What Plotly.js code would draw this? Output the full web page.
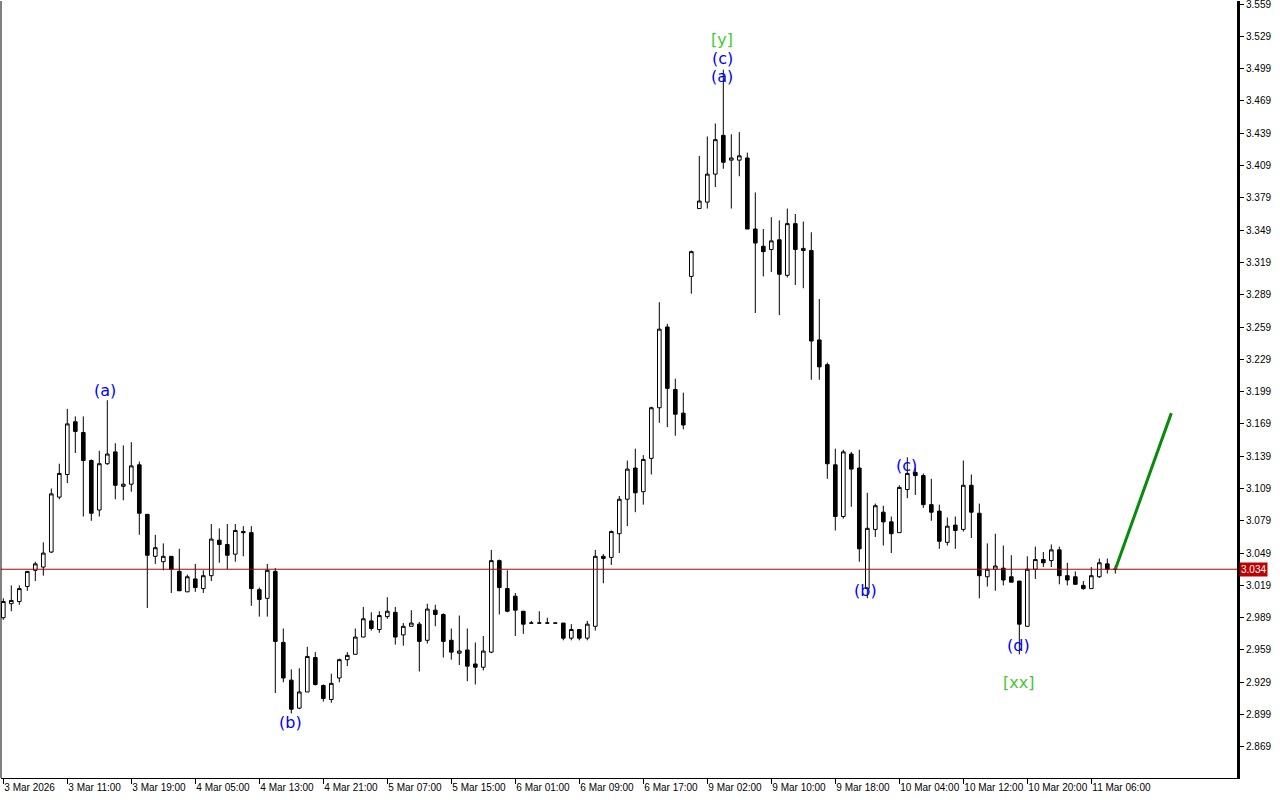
<!DOCTYPE html>
<html>
<head>
<meta charset="utf-8">
<script src="https://cdn.plot.ly/plotly-3.0.1.min.js"></script>
<style>
html,body{margin:0;padding:0;background:#fff;}
#chart{width:1280px;height:800px;}
</style>
</head>
<body>
<div id="chart"></div>
<script>
// Hourly bars (index = bar number)
const openP = [2.989,3.002,3.004,3.018,3.033,3.036,3.050,3.101,3.122,3.171,
3.161,3.135,3.089,3.132,3.143,3.111,3.113,3.131,3.085,3.046,
3.041,3.046,3.032,3.013,3.025,3.016,3.028,3.061,3.057,3.048,
3.069,3.068,3.015,3.007,3.032,2.966,2.931,2.905,2.920,2.952,
2.926,2.913,2.933,2.950,2.955,2.971,2.986,2.978,2.990,2.994,
2.973,2.981,2.983,2.968,2.996,2.992,2.968,2.956,2.959,2.946,
2.943,2.957,3.042,3.016,3.009,2.995,2.984,2.984,2.984,2.984,
2.984,2.970,2.978,2.970,2.981,3.046,3.045,3.067,3.099,3.128,
3.106,3.137,3.184,3.259,3.201,3.179,3.306,3.369,3.375,3.401,
3.437,3.414,3.414,3.416,3.350,3.334,3.331,3.340,3.307,3.355,
3.330,3.330,3.247,3.224,3.131,3.083,3.141,3.128,3.016,3.071,
3.087,3.078,3.068,3.108,3.124,3.121,3.094,3.088,3.059,3.075,
3.071,3.112,3.086,3.027,3.034,3.035,3.027,3.023,2.981,3.034,
3.043,3.042,3.052,3.028,3.027,3.019,3.016,3.027,3.039,3.034];
const highP = [3.007,3.019,3.019,3.032,3.041,3.059,3.109,3.132,3.183,3.176,
3.176,3.136,3.144,3.191,3.151,3.149,3.152,3.134,3.085,3.066,
3.058,3.046,3.053,3.029,3.039,3.033,3.076,3.072,3.076,3.076,
3.074,3.074,3.017,3.039,3.035,2.979,2.941,2.942,2.962,2.957,
2.927,2.937,2.951,2.957,2.979,2.999,2.994,2.995,3.008,2.999,
2.984,2.996,2.985,3.002,3.001,2.993,2.979,2.991,2.979,2.966,
2.972,3.052,3.043,3.033,3.012,2.995,2.986,2.995,2.989,2.984,
2.984,2.983,2.978,2.986,3.052,3.048,3.070,3.102,3.135,3.146,
3.140,3.185,3.282,3.262,3.211,3.198,3.330,3.418,3.436,3.448,
3.498,3.438,3.440,3.421,3.384,3.350,3.361,3.358,3.369,3.364,
3.357,3.347,3.285,3.226,3.146,3.145,3.143,3.145,3.105,3.095,
3.093,3.083,3.112,3.138,3.128,3.123,3.118,3.094,3.082,3.083,
3.135,3.122,3.095,3.058,3.067,3.056,3.047,3.023,3.046,3.055,
3.050,3.057,3.055,3.040,3.032,3.023,3.036,3.044,3.044,3.038];
const lowP = [2.987,2.995,3.001,3.014,3.023,3.028,3.049,3.099,3.114,3.142,
3.083,3.079,3.083,3.131,3.099,3.098,3.106,3.066,2.998,3.039,
3.033,3.012,3.014,3.013,3.013,3.012,3.023,3.040,3.034,3.041,
3.046,3.000,2.990,2.990,2.919,2.929,2.900,2.904,2.920,2.926,
2.911,2.910,2.929,2.944,2.955,2.971,2.977,2.975,2.988,2.964,
2.963,2.981,2.939,2.965,2.981,2.952,2.950,2.945,2.930,2.927,
2.940,2.956,2.992,2.994,2.972,2.974,2.984,2.984,2.984,2.984,
2.968,2.968,2.968,2.968,2.977,3.021,3.038,3.049,3.074,3.087,
3.094,3.122,3.170,3.166,3.158,3.164,3.290,3.369,3.369,3.389,
3.406,3.369,3.399,3.350,3.272,3.306,3.310,3.270,3.305,3.298,
3.295,3.210,3.210,3.118,3.070,3.081,3.092,3.041,3.007,3.064,
3.056,3.049,3.068,3.100,3.103,3.091,3.079,3.053,3.056,3.053,
3.069,3.063,3.007,3.018,3.014,3.019,3.022,2.955,2.981,3.025,
3.036,3.036,3.020,3.019,3.020,3.015,3.016,3.026,3.030,3.030];
const closeP = [3.004,3.005,3.016,3.032,3.039,3.049,3.104,3.123,3.169,3.162,
3.135,3.086,3.132,3.141,3.112,3.113,3.130,3.086,3.047,3.054,
3.046,3.034,3.014,3.027,3.017,3.028,3.062,3.057,3.047,3.070,
3.068,3.016,3.006,3.033,2.967,2.933,2.904,2.920,2.953,2.927,
2.914,2.928,2.950,2.954,2.971,2.988,2.979,2.991,2.995,2.971,
2.981,2.984,2.967,2.997,2.992,2.967,2.957,2.958,2.944,2.943,
2.958,3.042,3.017,2.995,2.996,2.983,2.984,2.984,2.984,2.984,
2.970,2.978,2.970,2.983,3.046,3.044,3.069,3.099,3.127,3.105,
3.136,3.184,3.257,3.202,3.178,3.168,3.329,3.376,3.401,3.433,
3.412,3.416,3.418,3.350,3.337,3.329,3.339,3.308,3.355,3.331,
3.332,3.246,3.222,3.132,3.083,3.143,3.127,3.053,3.072,3.093,
3.078,3.067,3.110,3.123,3.121,3.094,3.087,3.060,3.074,3.070,
3.112,3.087,3.028,3.034,3.037,3.024,3.022,2.983,3.034,3.043,
3.040,3.052,3.028,3.024,3.020,3.016,3.028,3.040,3.034,3.034];

const tickIdx = [0,8,16,24,32,40,48,56,64,72,80,88,96,104,112,120,128,136];
const tickLabels = ["3 Mar 2026","3 Mar 11:00","3 Mar 19:00","4 Mar 05:00","4 Mar 13:00",
"4 Mar 21:00","5 Mar 07:00","5 Mar 15:00","6 Mar 01:00","6 Mar 09:00","6 Mar 17:00",
"9 Mar 02:00","9 Mar 10:00","9 Mar 18:00","10 Mar 04:00","10 Mar 12:00","10 Mar 20:00","11 Mar 06:00"];
const priceTicks = [2.869,2.899,2.929,2.959,2.989,3.019,3.049,3.079,3.109,3.139,3.169,3.199,
3.229,3.259,3.289,3.319,3.349,3.379,3.409,3.439,3.469,3.499,3.529,3.559];

const currentPrice = 3.034;
const forecastX = [139, 146];
const forecastY = [3.034, 3.179];

const waveText = ["(a)","(b)","[y]","(c)","(a)","(b)","(c)","(d)","[xx]"];
const waveX = [12.7, 35.84, 89.84, 89.84, 89.84, 107.8, 112.84, 126.84, 126.84];
const waveY = [3.1996, 2.8912, 3.5265, 3.5088, 3.4921, 3.0147, 3.1299, 2.9636, 2.9284];
const waveColor = ["#0000ff","#0000ff","#44c832","#0000ff","#0000ff","#0000ff","#0000ff","#0000ff","#44c832"];

const xIdx = openP.map((_, i) => i);

const candles = {
  type: 'candlestick',
  x: xIdx, open: openP, high: highP, low: lowP, close: closeP,
  increasing: {line: {color: '#000000', width: 1}, fillcolor: '#ffffff'},
  decreasing: {line: {color: '#000000', width: 1}, fillcolor: '#000000'},
  whiskerwidth: 0,
  hoverinfo: 'skip',
  showlegend: false
};
const forecast = {
  type: 'scatter', mode: 'lines', x: forecastX, y: forecastY,
  line: {color: '#0a8a0a', width: 3}, hoverinfo: 'skip', showlegend: false
};

const annotations = waveText.map((t, i) => ({
  x: waveX[i], y: waveY[i], xref: 'x', yref: 'y', text: t, showarrow: false,
  font: {family: 'DejaVu Sans', size: 16, color: waveColor[i]},
  xanchor: 'center', yanchor: 'middle'
}));
annotations.push({
  xref: 'paper', x: 1, y: currentPrice, yref: 'y', text: currentPrice.toFixed(3),
  showarrow: false, xanchor: 'left', yanchor: 'middle', xshift: 2,
  bgcolor: '#c00000', borderpad: 1,
  font: {family: 'Liberation Sans', size: 10, color: '#ffffff'}
});

const layout = {
  width: 1280, height: 800,
  margin: {l: 1, r: 43, t: 1, b: 22},
  paper_bgcolor: '#ffffff', plot_bgcolor: '#ffffff',
  showlegend: false,
  boxgap: 0.35,
  xaxis: {
    type: 'linear', range: [-0.2875, 154.21],
    rangeslider: {visible: false},
    tickmode: 'array', tickvals: tickIdx, ticktext: tickLabels, tickangle: 0,
    ticks: 'outside', ticklen: 5, tickcolor: '#000', tickwidth: 1,
    ticklabelposition: 'outside right',
    showline: true, linecolor: '#000', linewidth: 1,
    showgrid: false, zeroline: false, fixedrange: true,
    tickfont: {family: 'Liberation Sans', size: 10, color: '#000'}
  },
  yaxis: {
    side: 'right', range: [2.8401, 3.5618],
    tickmode: 'array', tickvals: priceTicks, tickformat: '.3f',
    ticklabeloverflow: 'allow',
    ticks: 'outside', ticklen: 4, tickcolor: '#000', tickwidth: 1,
    showline: true, linecolor: '#000', linewidth: 3,
    showgrid: false, zeroline: false, fixedrange: true,
    tickfont: {family: 'Liberation Sans', size: 10, color: '#000'}
  },
  shapes: [
    {type: 'line', xref: 'paper', yref: 'y', x0: 0, x1: 1, y0: currentPrice, y1: currentPrice,
     line: {color: '#b00000', width: 1}},
    {type: 'line', xref: 'paper', yref: 'paper', x0: 0, x1: 0, y0: 0, y1: 1,
     line: {color: '#000', width: 1}}
  ],
  annotations: annotations
};

Plotly.newPlot('chart', [candles, forecast], layout, {displayModeBar: false, staticPlot: true});
</script>
</body>
</html>
